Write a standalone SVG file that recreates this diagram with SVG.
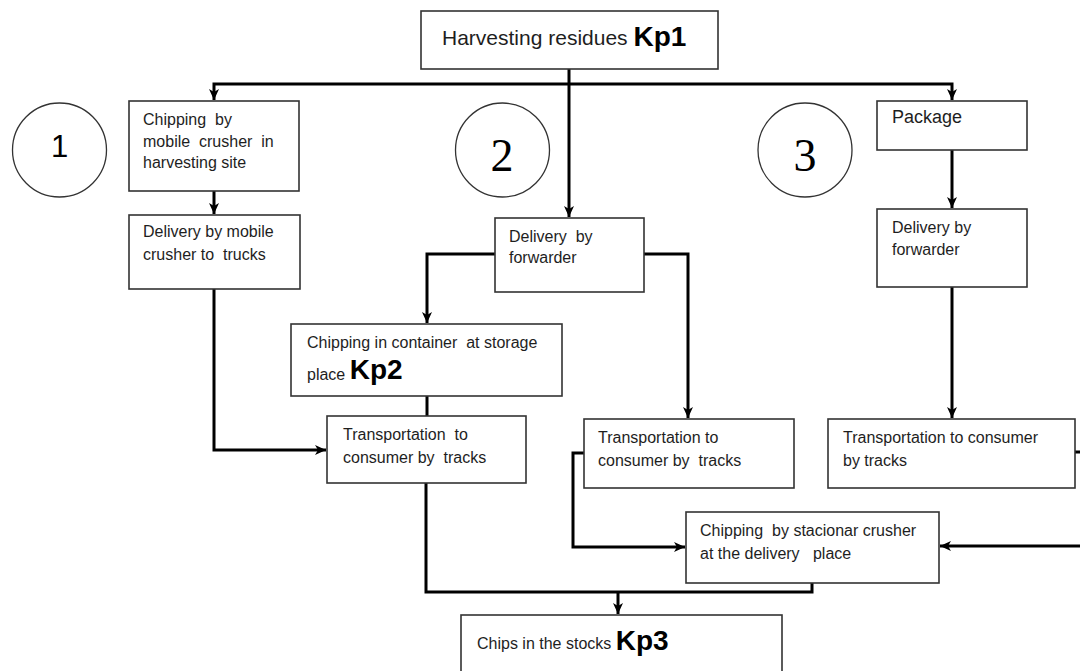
<svg xmlns="http://www.w3.org/2000/svg" width="1080" height="671" viewBox="0 0 1080 671" xml:space="preserve">
<style>
.box{fill:#fff;stroke:#333;stroke-width:1.6}
.circ{fill:#fff;stroke:#333;stroke-width:1.3}
.t{font-family:"Liberation Sans",Arial,sans-serif;font-size:16px;fill:#1e1e1e;white-space:pre}
.big{font-family:"Liberation Sans",Arial,sans-serif;font-size:21px;fill:#1e1e1e}
.kp{font-family:"Liberation Sans",Arial,sans-serif;font-size:28px;font-weight:bold;fill:#000}
.num{font-family:"Liberation Serif","Times New Roman",serif;font-size:46px;fill:#000;text-anchor:middle}
.c{fill:none;stroke:#000;stroke-width:3}
.ca{fill:none;stroke:#000;stroke-width:3;marker-end:url(#ah)}
</style>
<defs>
<marker id="ah" markerUnits="userSpaceOnUse" markerWidth="12" markerHeight="12" viewBox="0 0 12 12" refX="11" refY="6" orient="auto">
<path d="M0,1 L11,6 L0,11 L3,6 Z" fill="#000"/>
</marker>
</defs>
<rect width="1080" height="671" fill="#fff"/>
<g id="connectors">
<path class="ca" d="M569,69 V217"/>
<path class="ca" d="M569,84 H214 V100"/>
<path class="ca" d="M569,84 H952 V100"/>
<path class="ca" d="M214,191 V214"/>
<path class="ca" d="M214,289 V450 H326"/>
<path class="ca" d="M495,254 H427 V323"/>
<path class="ca" d="M644,254 H688 V418"/>
<path class="c" d="M427,396 V416"/>
<path class="c" d="M426,483 V592 H812 V583"/>
<path class="ca" d="M618,592 V614"/>
<path class="ca" d="M584,453 H573 V547 H685"/>
<path class="ca" d="M1075,452 H1086 V546 H940"/>
<path class="ca" d="M952,150 V208"/>
<path class="ca" d="M952,287 V418"/>
</g>
<g id="n-kp1">
<rect class="box" x="421" y="11" width="297" height="58"/>
<text x="442" y="45"><tspan class="big">Harvesting residues </tspan><tspan class="kp" dy="1">Kp1</tspan></text>
</g>
<g id="c1">
<circle class="circ" cx="59.5" cy="150" r="47"/>
<text x="59.5" y="157" style="font-family:'Liberation Sans',Arial,sans-serif;font-size:31px;fill:#000;text-anchor:middle">1</text>
</g>
<g id="c2">
<circle class="circ" cx="502.5" cy="150" r="47"/>
<text class="num" x="502" y="171">2</text>
</g>
<g id="c3">
<circle class="circ" cx="805" cy="150" r="47"/>
<text class="num" x="805" y="171">3</text>
</g>
<g id="n-chip-mobile">
<rect class="box" x="129" y="101" width="170" height="90"/>
<text class="t" x="143" y="125">Chipping  by</text>
<text class="t" x="143" y="147">mobile  crusher  in</text>
<text class="t" x="143" y="168">harvesting site</text>
</g>
<g id="n-deliv-mobile">
<rect class="box" x="129" y="215" width="171" height="74"/>
<text class="t" x="143" y="237">Delivery by mobile</text>
<text class="t" x="143" y="260">crusher to  trucks</text>
</g>
<g id="n-deliv-fwd-2">
<rect class="box" x="495" y="218" width="149" height="74"/>
<text class="t" x="509" y="242">Delivery  by</text>
<text class="t" x="509" y="263">forwarder</text>
</g>
<g id="n-package">
<rect class="box" x="877" y="101" width="150" height="49"/>
<text x="892" y="123" style="font-family:'Liberation Sans',Arial,sans-serif;font-size:18px;fill:#1e1e1e">Package</text>
</g>
<g id="n-deliv-fwd-3">
<rect class="box" x="877" y="209" width="150" height="78"/>
<text class="t" x="892" y="233">Delivery by</text>
<text class="t" x="892" y="255">forwarder</text>
</g>
<g id="n-kp2">
<rect class="box" x="291" y="324" width="271" height="72"/>
<text class="t" x="307" y="348">Chipping in container  at storage</text>
<text x="307" y="380"><tspan class="t">place </tspan><tspan class="kp" dy="-1">Kp2</tspan></text>
</g>
<g id="n-transport-1">
<rect class="box" x="327" y="416" width="199" height="67"/>
<text class="t" x="343" y="440">Transportation  to</text>
<text class="t" x="343" y="463">consumer by  tracks</text>
</g>
<g id="n-transport-2">
<rect class="box" x="584" y="419" width="210" height="69"/>
<text class="t" x="598" y="443">Transportation to</text>
<text class="t" x="598" y="466">consumer by  tracks</text>
</g>
<g id="n-transport-3">
<rect class="box" x="828" y="419" width="247" height="69"/>
<text class="t" x="843" y="443">Transportation to consumer</text>
<text class="t" x="843" y="466">by tracks</text>
</g>
<g id="n-stacionar">
<rect class="box" x="686" y="512" width="253" height="71"/>
<text class="t" x="700" y="536">Chipping  by stacionar crusher</text>
<text class="t" x="700" y="559">at the delivery   place</text>
</g>
<g id="n-kp3">
<rect class="box" x="461" y="615" width="321" height="70"/>
<text x="477" y="649"><tspan class="t">Chips in the stocks </tspan><tspan class="kp" dy="1">Kp3</tspan></text>
</g>
</svg>
